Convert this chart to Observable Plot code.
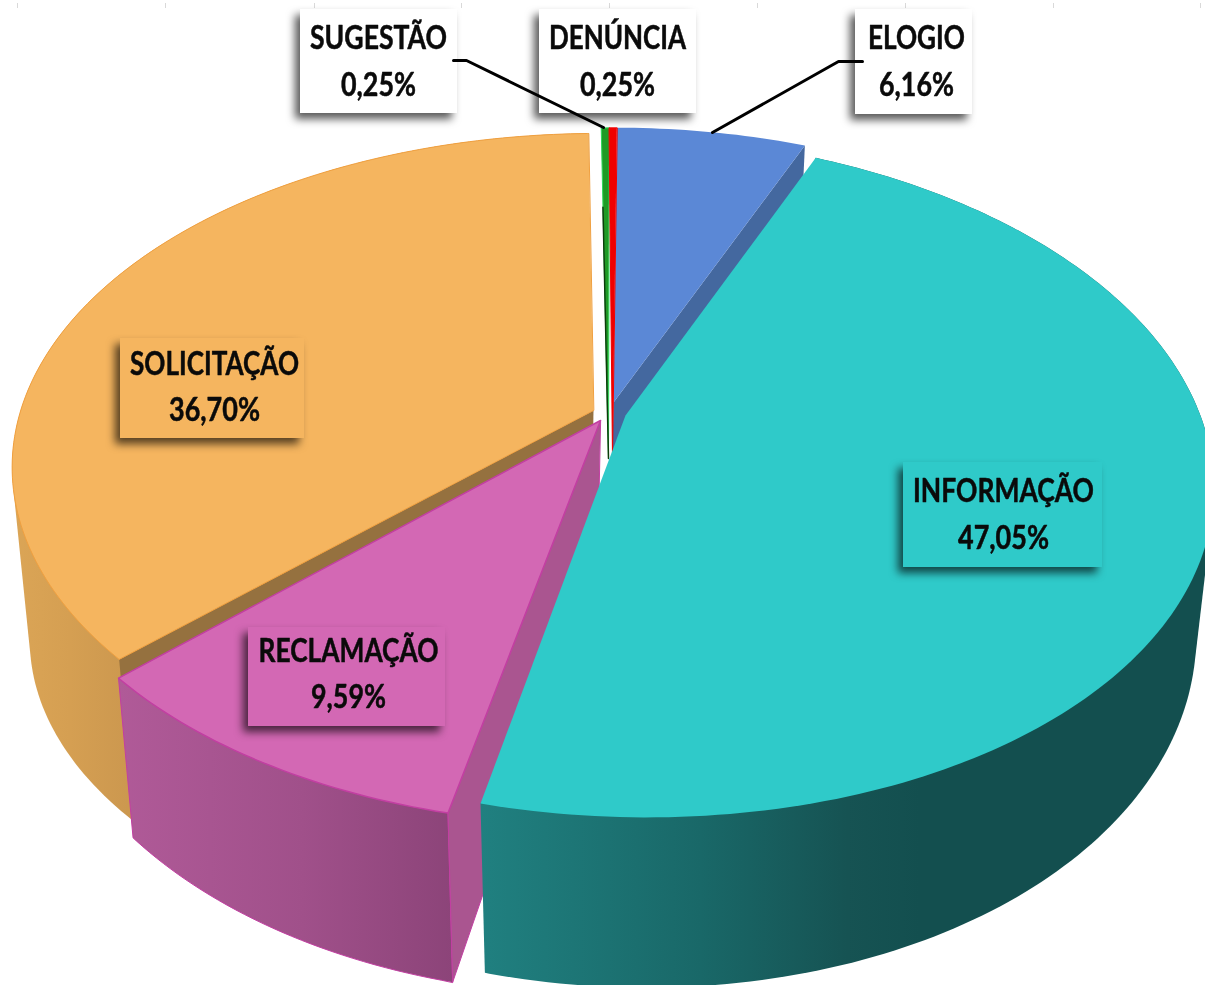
<!DOCTYPE html>
<html lang="pt">
<head>
<meta charset="utf-8">
<script src="https://cdn.jsdelivr.net/npm/d3@7"></script>
<script src="https://cdn.jsdelivr.net/npm/@observablehq/plot@0.6"></script>
<style>html,body{margin:0;padding:0;background:#fff}svg{display:block}</style>
</head>
<body>
<div id="chart"></div>
<script>
// Data
const categories = ["ELOGIO", "INFORMAÇÃO", "RECLAMAÇÃO", "SOLICITAÇÃO", "SUGESTÃO", "DENÚNCIA"];
const shares = [6.16, 47.05, 9.59, 36.70, 0.25, 0.25];

// Styles per slice
const topColors = ["#5b88d6", "#2fcac9", "#d368b4", "#f5b55f", "#1f9a25", "#f00000"];
const edgeColors = ["#5b88d6", "#2fcac9", "#c23fa2", "#f0a040", "#2fd85a", "#f00000"];
const sideColors = ["#44689f", "#1f8080", "#aa5590", "#95713f", "#2f8f35", "#f00000"];
const wallFills = [null, "url(#wallInfo)", "url(#wallRecl)", "url(#wallSol)", null, null];

// Layout of each exploded slice: angular offset, rim centre, rim scale, apex, wall shape
const turnDeg = [0.3, 0.4, 1.2, 0.5, 0.5, 0.5];
const rimX = [614, 626, 603, 599, 612, 612];
const rimY = [402, 413, 425, 405, 405, 405];
const rimScale = [0.99, 1, 0.99, 0.98, 1, 1];
const rimScaleX = [1, 0.98, 0.99, 1, 1, 1];
const rimShear = [0, 0.02, 0, 0, 0, 0];
const apexX = [613, 625, 600, 593, 608, 612];
const apexY = [402, 415, 420, 410, 458, 458];
const wallSy = [1.07, 1.07, 1.07, 0.944, 1.07, 1.07];
const wallDy = [142, 142, 142, 176, 142, 142];

// Label boxes and text
const boxX1 = [855, 903, 248, 120, 300, 539];
const boxX2 = [972, 1102, 445, 304, 457, 696];
const boxY1 = [9, 462, 627, 338, 9, 9];
const boxY2 = [114, 567, 726, 438, 113, 113];
const boxFill = ["#ffffff", "#2fcac9", "#d368b4", "#f5b55f", "#ffffff", "#ffffff"];
const labelX = [916, 1003, 348, 214, 378, 617];
const nameY = [38, 491, 651, 364, 38, 38];
const valueY = [85, 538, 697, 410, 85, 85];
const nameW = [97, 181, 180, 169, 137, 137];
const valueW = [75, 91, 75, 91, 75, 75];

// Projection constants of the tilted disc
const RX = 589, RY = 329, K = 0.185;
const wallSx = 0.97;

const rad = d => d * Math.PI / 180;
let acc = 0;
const slices = categories.map((name, i) => {
  const a0 = turnDeg[i] + acc * 3.6;
  acc += shares[i];
  return {i, name, a0, a1: turnDeg[i] + acc * 3.6};
});
const rim = (i, deg) => {
  const s = Math.sin(rad(deg)), c = Math.cos(rad(deg)), f = rimScale[i] / (1 + K * c);
  const dx = RX * rimScaleX[i] * s * f;
  return {x: rimX[i] + dx, y: rimY[i] - RY * c * f + rimShear[i] * dx};
};
const low = (i, p) => ({
  x: rimX[i] + wallSx * (p.x - rimX[i]),
  y: rimY[i] + wallDy[i] + wallSy[i] * (p.y - rimY[i])
});
const arc = (i, a, b) => d3.range(a, b, 1).concat([b]).map(d => rim(i, d));
const apex = i => ({x: apexX[i], y: apexY[i]});

const topFace = s => [apex(s.i), ...arc(s.i, s.a0, s.a1)];
// The cylinder wall is the hull of the rim and its lower copy: later faces paint over the inner part
const outerWall = s => {
  const r = arc(s.i, s.a0, s.a1);
  const pts = [...r, ...r.map(p => low(s.i, p))].map(p => [p.x, p.y]);
  return d3.polygonHull(pts).map(([x, y]) => ({x, y}));
};
const radialWall = (s, deg) => {
  const r = rim(s.i, deg), p = apex(s.i);
  return [p, r, low(s.i, r), {x: p.x - 3, y: p.y + wallDy[s.i]}];
};

const poly = (pts, fill, stroke = "none", strokeWidth = 1) =>
  Plot.line(pts, {x: "x", y: "y", fill, stroke, strokeWidth, curve: "linear-closed"});

const [elo, inf, rec, sol, sug, den] = slices;

// Dark seam along the lower part of the thin green slice
const seamStart = rim(sug.i, sug.a0), seamEnd = apex(sug.i), seamFrom = 0.24;
const seam = [seamFrom, 1].map(t => ({
  x: seamStart.x + t * (seamEnd.x - seamStart.x),
  y: seamStart.y + t * (seamEnd.y - seamStart.y)
}));

const defs = () => {
  const ns = "http://www.w3.org/2000/svg";
  const d = document.createElementNS(ns, "defs");
  const add = (id, stops) => {
    const g = document.createElementNS(ns, "linearGradient");
    g.setAttribute("id", id);
    stops.forEach(([o, c]) => {
      const st = document.createElementNS(ns, "stop");
      st.setAttribute("offset", o);
      st.setAttribute("stop-color", c);
      g.appendChild(st);
    });
    d.appendChild(g);
  };
  add("wallInfo", [[0, "#208080"], [0.3, "#196868"], [0.5, "#165353"], [0.6, "#134f4f"], [1, "#134f4f"]]);
  add("wallRecl", [[0, "#b05a98"], [0.55, "#a0508a"], [1, "#8c4479"]]);
  add("wallSol", [[0, "#dba556"], [0.1, "#d59f52"], [0.2, "#cc984f"], [1, "#cc984f"]]);
  return d;
};

const tickXs = [17, 165, 314, 461, 609, 757, 905, 1053, 1200];
const leaderSug = [{x: 453, y: 60}, {x: 466, y: 60}, {x: 603, y: 127}];
const leaderElo = [{x: 712, y: 132}, {x: 838, y: 61}, {x: 862, y: 61}];

const labelRows = slices.map(s => ({
  x1: boxX1[s.i], x2: boxX2[s.i], y1: boxY1[s.i], y2: boxY2[s.i],
  fill: boxFill[s.i], xc: labelX[s.i],
  name: s.name, value: shares[s.i].toFixed(2).replace(".", ",") + "%",
  ny: nameY[s.i], vy: valueY[s.i]
}));

const font = {fontFamily: "Lato, 'Open Sans', sans-serif", fontWeight: 700, fontSize: 32, fill: "#0a0a0a", stroke: "#0a0a0a", strokeWidth: 0.5, textAnchor: "middle", lineAnchor: "middle", imageFilter: "blur(0.4px)"};

const chart = Plot.plot({
  width: 1205, height: 985,
  margin: 0,
  style: {background: "#fff"},
  x: {domain: [0, 1205], range: [0, 1205], axis: null},
  y: {domain: [0, 985], range: [0, 985], axis: null},
  marks: [
    defs,
    Plot.ruleX(tickXs, {y1: 3, y2: 8, stroke: "#d9d9d9", strokeWidth: 1}),

    poly(radialWall(elo, elo.a1), sideColors[0]),
    poly(topFace(elo), topColors[0]),
    poly(topFace(sug), topColors[4], edgeColors[4], 1),
    poly(topFace(den), topColors[5], edgeColors[5], 1),
    Plot.line(seam, {x: "x", y: "y", stroke: "#0b3d0b", strokeWidth: 1.5, curve: "linear"}),

    poly(outerWall(sol), wallFills[3]),
    poly(radialWall(sol, sol.a0), sideColors[3]),
    poly(topFace(sol), topColors[3], edgeColors[3], 1),

    poly(outerWall(rec), wallFills[2], edgeColors[2], 1),
    poly(radialWall(rec, rec.a0), sideColors[2], edgeColors[2], 1),
    poly(topFace(rec), topColors[2], edgeColors[2], 1.5),

    poly(outerWall(inf), wallFills[1]),
    poly(topFace(inf), topColors[1]),

    Plot.rect(labelRows, {
      x1: "x1", x2: "x2", y1: "y1", y2: "y2", fill: "fill",
      imageFilter: "drop-shadow(-5px 6px 4px rgba(0,0,0,0.65))"
    }),
    Plot.line(leaderSug, {x: "x", y: "y", stroke: "#000", strokeWidth: 3, curve: "linear"}),
    Plot.line(leaderElo, {x: "x", y: "y", stroke: "#000", strokeWidth: 3, curve: "linear"}),
    Plot.text(labelRows, {x: "xc", y: "ny", text: "name", ...font}),
    Plot.text(labelRows, {x: "xc", y: "vy", text: "value", ...font})
  ]
});
document.getElementById("chart").appendChild(chart);

// Fit each label to the width it has in the reference
const textGroups = chart.querySelectorAll('g[aria-label="text"]');
[nameW, valueW].forEach((widths, g) => {
  textGroups[g].querySelectorAll("text").forEach((t, i) => {
    t.setAttribute("textLength", widths[i]);
    t.setAttribute("lengthAdjust", "spacingAndGlyphs");
  });
});
</script>
</body>
</html>
